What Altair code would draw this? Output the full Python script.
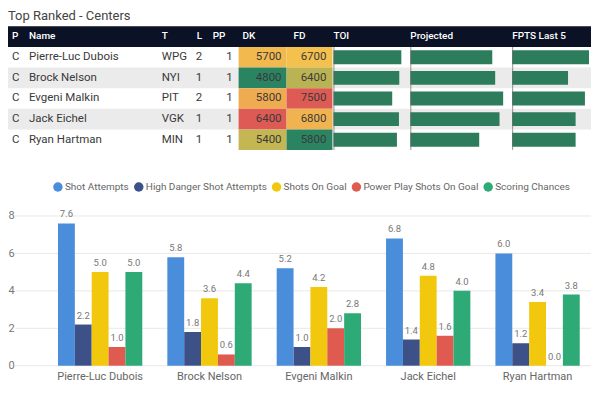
import altair as alt
import pandas as pd

# ---------------- data ----------------
players = ["Pierre-Luc Dubois", "Brock Nelson", "Evgeni Malkin", "Jack Eichel", "Ryan Hartman"]
positions = ["C", "C", "C", "C", "C"]
teams = ["WPG", "NYI", "PIT", "VGK", "MIN"]
lines = [2, 1, 2, 1, 1]
pp_units = [1, 1, 1, 1, 1]
dk_salary = [5700, 4800, 5800, 6400, 5400]
fd_salary = [6700, 6400, 7500, 6800, 5800]
toi = [20.1, 19.5, 17.4, 19.4, 18.8]
projected = [11.3, 11.7, 12.8, 12.3, 9.5]
fpts_last5 = [13.2, 9.6, 12.5, 10.9, 10.9]

headers = ["P", "Name", "T", "L", "PP", "DK", "FD", "TOI", "Projected", "FPTS Last 5"]

metrics = ["Shot Attempts", "High Danger Shot Attempts", "Shots On Goal",
           "Power Play Shots On Goal", "Scoring Chances"]
shot_attempts = [7.6, 5.8, 5.2, 6.8, 6.0]
hd_shot_attempts = [2.2, 1.8, 1.0, 1.4, 1.2]
shots_on_goal = [5.0, 3.6, 4.2, 4.8, 3.4]
pp_shots_on_goal = [1.0, 0.6, 2.0, 1.6, 0.0]
scoring_chances = [5.0, 4.4, 2.8, 4.0, 3.8]
y_ticks = [0, 2, 4, 6, 8]

# ---------------- styles ----------------
FONT = "Segoe UI, Roboto, sans-serif"
W = 584
HDR = "__hdr__"
heat_range = ["#2b8461", "#f5c64e", "#de5b55"]
bar_green = "#2d7c5c"
metric_colors = ["#4a8ddb", "#3c5187", "#f2c80f", "#df5a4f", "#2eaa77"]

# ---------------- table panel ----------------
tbl = pd.DataFrame({
    "P": positions, "Name": players, "T": teams, "L": lines, "PP": pp_units,
    "DK": dk_salary, "FD": fd_salary, "TOI": toi, "Projected": projected,
    "FPTS": fpts_last5, "idx": list(range(len(players))),
})
hdr_df = pd.DataFrame({"Name": [HDR]})

yrow = alt.Y("Name:N", scale=alt.Scale(domain=[HDR] + players, paddingInner=0, paddingOuter=0), axis=None)

base = alt.Chart(tbl)
layers = []
layers.append(base.transform_filter("datum.idx % 2 == 1").mark_rect(color="#ebebeb")
              .encode(y=yrow, x=alt.value(0), x2=alt.value(W)))
layers.append(alt.Chart(hdr_df).mark_rect(color="#0b1226")
              .encode(y=yrow, x=alt.value(0), x2=alt.value(W)))

# heat-map salary cells
for field, x0, x1, dom in [("DK", 231, 279, [4800, 5600, 6400]), ("FD", 279, 325, [5800, 6650, 7500])]:
    layers.append(base.mark_rect().encode(
        y=yrow, x=alt.value(x0), x2=alt.value(x1),
        color=alt.Color(f"{field}:Q", scale=alt.Scale(domain=dom, range=heat_range, interpolate="rgb"), legend=None)))

# data bars
for field, vals, x0, x1 in [("TOI", toi, 326, 394), ("Projected", projected, 403, 496), ("FPTS", fpts_last5, 505, 582)]:
    layers.append(base.mark_bar(size=14, color=bar_green).encode(
        y=yrow,
        x=alt.X(f"{field}:Q", scale=alt.Scale(domain=[0, max(vals)], range=[x0, x1], nice=False, zero=True), axis=None)))
    layers.append(base.mark_rect(color="#666666", opacity=0.7).encode(
        y=yrow, x=alt.value(x0), x2=alt.value(x0 + 1)))

# text columns
for field, x, align in [("P", 4, "left"), ("Name", 21, "left"), ("T", 154, "left"), ("L", 188, "left"),
                        ("PP", 225, "right"), ("DK", 274, "right"), ("FD", 319, "right")]:
    layers.append(base.mark_text(align=align, baseline="middle", font=FONT, fontSize=11.5, color="#3a3a3a").encode(
        y=yrow, x=alt.value(x), text=f"{field}:N"))

# header labels
for label, x in zip(headers, [4, 21, 154, 189, 205, 235, 286, 326, 403, 505]):
    layers.append(alt.Chart(hdr_df).mark_text(align="left", baseline="middle", font=FONT, fontSize=10,
                                              fontWeight=500, color="#ffffff", dy=-1).encode(
        y=yrow, x=alt.value(x), text=alt.value(label)))

table = alt.layer(*layers).resolve_scale(x="independent", color="independent").properties(
    width=W, height=124,
    title=alt.TitleParams("Top Ranked - Centers", anchor="start", font=FONT, fontSize=13,
                          fontWeight="normal", color="#444444", offset=3),
)

# ---------------- bar chart panel ----------------
rows = []
for i, p in enumerate(players):
    for m, series in zip(metrics, [shot_attempts, hd_shot_attempts, shots_on_goal, pp_shots_on_goal, scoring_chances]):
        rows.append({"player": p, "metric": m, "value": series[i]})
bars_df = pd.DataFrame(rows)

xenc = alt.X("player:N", sort=players,
             scale=alt.Scale(paddingInner=0.229, paddingOuter=0.28, align=0.816, round=False),
             axis=alt.Axis(title=None, labelAngle=0, domain=False, ticks=False, labelFont=FONT,
                           labelFontSize=11, labelColor="#666666", labelPadding=5))
xoff = alt.XOffset("metric:N", sort=metrics, scale=alt.Scale(paddingInner=0, paddingOuter=0))
yenc = alt.Y("value:Q", scale=alt.Scale(domain=[0, 8.8], nice=False),
             axis=alt.Axis(values=y_ticks, title=None, grid=False, domain=False, ticks=False, tickSize=0,
                           labelAlign="left", labelPadding=0, labelFont=FONT, labelFontSize=11,
                           labelColor="#777777"))

grid = alt.Chart(pd.DataFrame({"value": y_ticks})).mark_rule(color="#e8e8e8", strokeWidth=1).encode(
    y=alt.Y("value:Q"), x=alt.value(7), x2=alt.value(W))

bars = alt.Chart(bars_df).mark_bar().encode(
    x=xenc, xOffset=xoff, y=yenc,
    color=alt.Color("metric:N", sort=metrics, scale=alt.Scale(domain=metrics, range=metric_colors),
                    legend=alt.Legend(orient="none", legendX=45, legendY=156, direction="horizontal",
                                      title=None, symbolType="circle", symbolSize=90, symbolStrokeWidth=0,
                                      labelFont=FONT, labelFontSize=10, labelColor="#666666",
                                      labelOffset=2, columnPadding=4)),
)
labels = alt.Chart(bars_df).mark_text(baseline="bottom", dy=-4, font=FONT, fontSize=9.5, color="#777777").encode(
    x=xenc, xOffset=xoff, y=yenc, text=alt.Text("value:Q", format=".1f"))

barchart = alt.layer(grid, bars, labels).properties(width=W, height=165)

chart = alt.vconcat(table, barchart, spacing=50).properties(
    padding={"top": 2, "left": 0, "right": 0, "bottom": 0}, background="white"
).configure_view(stroke=None)

chart.save("out.html", embed_options={"renderer": "svg", "actions": False})
